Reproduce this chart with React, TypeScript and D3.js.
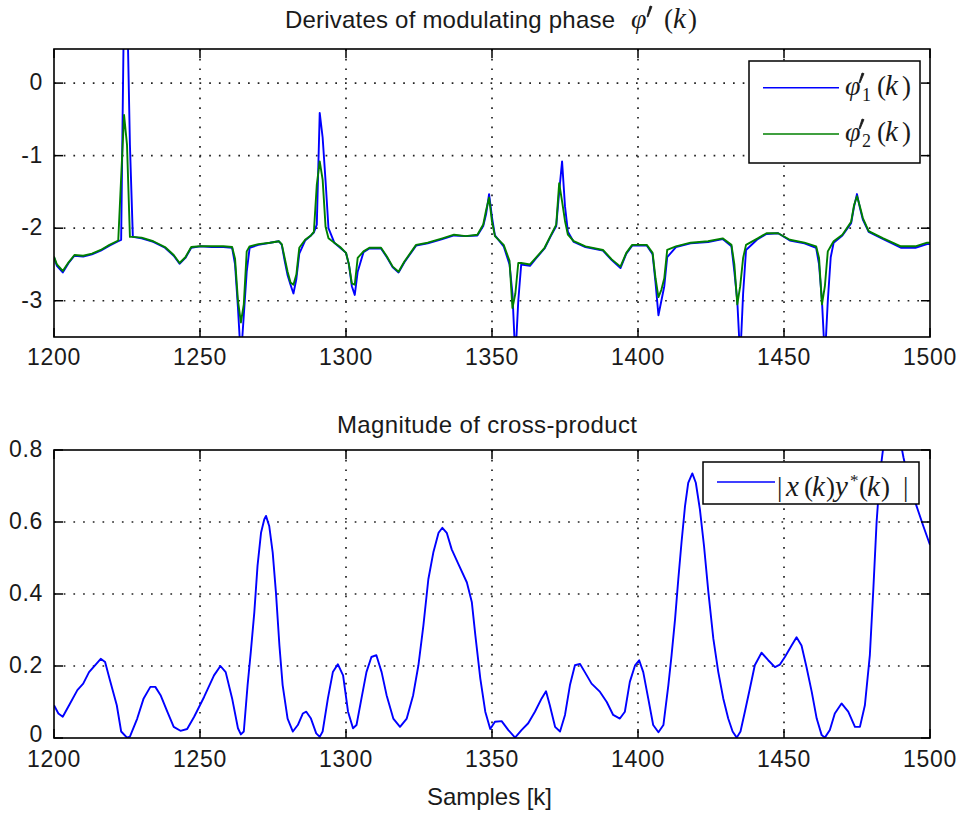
import React from 'react';
import * as d3 from 'd3';

// ---------- data ----------
const X_TICKS = [1200, 1250, 1300, 1350, 1400, 1450, 1500];
const TOP_Y_TICKS = [0, -1, -2, -3];
const TOP_Y_LABELS = ['0', '-1', '-2', '-3'];
const BOT_Y_TICKS = [0, 0.2, 0.4, 0.6, 0.8];
const BOT_Y_LABELS = ['0', '0.2', '0.4', '0.6', '0.8'];

const TOP_K = [
  1200, 1201, 1203, 1205, 1207, 1210, 1213, 1216, 1219, 1222, 1223, 1224, 1225, 1226, 1227, 1230, 1234, 1238, 1241, 1243,
  1245, 1247, 1250, 1254, 1258, 1261, 1262, 1263, 1264, 1265, 1266, 1267, 1270, 1274, 1277, 1278, 1279, 1280, 1281, 1282,
  1283, 1284, 1286, 1288, 1289, 1290, 1291, 1292, 1293, 1294, 1296, 1298, 1300, 1301, 1302, 1303, 1304, 1306, 1308, 1312,
  1314, 1316, 1318, 1320, 1324, 1328, 1333, 1337, 1341, 1345, 1347, 1348, 1349, 1350, 1351, 1354, 1356, 1357, 1358, 1359,
  1360, 1363, 1365, 1368, 1370, 1372, 1373, 1374, 1375, 1376, 1378, 1382, 1388, 1391, 1394, 1396, 1398, 1403, 1405, 1406,
  1407, 1408, 1409, 1410, 1413, 1418, 1424, 1429, 1432, 1433, 1434, 1435, 1436, 1437, 1441, 1444, 1448, 1452, 1457, 1461,
  1462, 1463, 1464, 1465, 1466, 1467, 1470, 1473, 1474, 1475, 1476, 1477, 1479, 1484, 1490, 1495, 1499, 1500,
];

// φ'_2(k) (green)
const PHI2 = [
  -2.39, -2.5, -2.59, -2.47, -2.37, -2.38, -2.35, -2.3, -2.23, -2.17, -1.3, -0.44, -0.85, -2.12, -2.12, -2.13, -2.18, -2.26, -2.37, -2.48,
  -2.4, -2.26, -2.25, -2.25, -2.25, -2.26, -2.42, -3.0, -3.3, -3.05, -2.32, -2.25, -2.22, -2.2, -2.18, -2.22, -2.41, -2.6, -2.75, -2.78,
  -2.64, -2.27, -2.16, -2.1, -2.05, -1.4, -1.08, -1.33, -1.98, -2.14, -2.2, -2.26, -2.34, -2.5, -2.76, -2.78, -2.41, -2.32, -2.27, -2.27,
  -2.39, -2.53, -2.6, -2.46, -2.23, -2.2, -2.14, -2.09, -2.11, -2.09, -1.95, -1.75, -1.58, -1.91, -2.11, -2.23, -2.45, -3.1, -2.9, -2.48,
  -2.48, -2.5, -2.41, -2.27, -2.11, -1.95, -1.38, -1.63, -1.9, -2.09, -2.18, -2.25, -2.3, -2.43, -2.53, -2.34, -2.23, -2.23, -2.34, -2.69,
  -2.95, -2.85, -2.69, -2.3, -2.25, -2.2, -2.18, -2.14, -2.23, -2.5, -3.05, -2.8, -2.41, -2.23, -2.14, -2.07, -2.07, -2.16, -2.2, -2.25,
  -2.41, -3.05, -2.8, -2.32, -2.25, -2.18, -2.09, -1.91, -1.68, -1.56, -1.7, -1.86, -2.04, -2.14, -2.25, -2.25, -2.2, -2.2,
];

// φ'_1(k) (blue)
const PHI1 = [
  -2.4, -2.52, -2.61, -2.48, -2.38, -2.39, -2.36, -2.31, -2.24, -2.18, -2.16, 1.2, 1.2, -0.85, -2.12, -2.14, -2.19, -2.27, -2.38, -2.49,
  -2.41, -2.27, -2.25, -2.26, -2.26, -2.27, -2.5, -3.1, -3.8, -3.2, -2.6, -2.27, -2.23, -2.2, -2.18, -2.23, -2.45, -2.65, -2.78, -2.9,
  -2.7, -2.35, -2.17, -2.1, -2.06, -1.95, -0.41, -0.75, -1.35, -2.0, -2.2, -2.27, -2.34, -2.5, -2.8, -2.92, -2.6, -2.33, -2.28, -2.28,
  -2.4, -2.54, -2.61, -2.47, -2.24, -2.21, -2.15, -2.1, -2.11, -2.1, -1.97, -1.8, -1.53, -1.85, -2.1, -2.25, -2.5, -2.9, -3.8, -3.0,
  -2.5, -2.52, -2.42, -2.28, -2.12, -1.97, -1.5, -1.08, -1.7, -2.05, -2.19, -2.26, -2.31, -2.44, -2.55, -2.35, -2.24, -2.24, -2.36, -2.75,
  -3.2, -3.0, -2.8, -2.4, -2.26, -2.21, -2.19, -2.15, -2.25, -2.6, -3.0, -3.8, -2.9, -2.3, -2.15, -2.08, -2.07, -2.17, -2.21, -2.27,
  -2.5, -3.0, -3.8, -3.0, -2.4, -2.2, -2.1, -1.93, -1.7, -1.53, -1.72, -1.88, -2.05, -2.15, -2.27, -2.27, -2.22, -2.22,
];

const BOT_K = [
  1200, 1201.5, 1203, 1205.5, 1208, 1210, 1212, 1216, 1217.5, 1219, 1221.5, 1223, 1225, 1226, 1228.5, 1230.7, 1233, 1234.7, 1236.5, 1238.8,
  1241, 1243.3, 1245.6, 1248, 1251.4, 1254.8, 1257, 1258.8, 1261, 1263, 1264, 1265, 1266.3, 1267.4, 1268.6, 1269.7, 1270.9, 1272, 1272.6, 1273.7,
  1274.9, 1276, 1277.2, 1278.3, 1280, 1281.8, 1283.5, 1285.2, 1286.4, 1288, 1289.8, 1291, 1292, 1293.8, 1295.5, 1297.2, 1299, 1300.7, 1302.4, 1303.6,
  1305.3, 1307, 1308.7, 1310.4, 1312.2, 1313.9, 1316.2, 1318.5, 1320.8, 1323, 1324.8, 1326.5, 1328.2, 1329.9, 1331.7, 1333, 1334.5, 1336.2, 1338.5, 1341.4,
  1343.1, 1344.3, 1346, 1347.7, 1349.4, 1351, 1353.3, 1355.6, 1357.9, 1360.1, 1362.4, 1364.7, 1367, 1368.5, 1369.8, 1371.6, 1373.3, 1375, 1376.7, 1378.4,
  1380.1, 1381.8, 1384.1, 1387, 1389.3, 1391.5, 1393.8, 1395.5, 1397.2, 1399, 1400.4, 1401.8, 1403.5, 1405.2, 1407, 1408.7, 1410.4, 1411.5, 1412.7, 1413.8,
  1414.9, 1416.1, 1417.2, 1418.6, 1419.8, 1421.2, 1422.6, 1424.1, 1425.8, 1427.5, 1429.2, 1430.9, 1432.4, 1433.8, 1435.1, 1436.6, 1438.3, 1440, 1442.3, 1444.6,
  1446.9, 1448.6, 1450.3, 1452.6, 1454.3, 1456, 1457.7, 1459.5, 1461.2, 1462.9, 1464, 1465.7, 1467.4, 1469.7, 1472, 1474.3, 1476, 1477.7, 1479.4, 1480.6,
  1481.7, 1482.9, 1484.5, 1487, 1489.5, 1490.9, 1493.1, 1495.4, 1497.7, 1499.4, 1500,
];

const CROSS = [
  0.091, 0.068, 0.059, 0.096, 0.133, 0.151, 0.183, 0.22, 0.211, 0.165, 0.091, 0.018, 0.001, 0.004, 0.054, 0.11, 0.142, 0.142, 0.119, 0.073,
  0.031, 0.02, 0.025, 0.059, 0.114, 0.174, 0.2, 0.183, 0.11, 0.027, 0.01, 0.018, 0.147, 0.239, 0.349, 0.478, 0.57, 0.607, 0.617, 0.589,
  0.515, 0.405, 0.257, 0.147, 0.054, 0.018, 0.036, 0.068, 0.073, 0.054, 0.013, 0.003, 0.018, 0.11, 0.183, 0.205, 0.174, 0.073, 0.027, 0.036,
  0.11, 0.183, 0.225, 0.23, 0.183, 0.119, 0.054, 0.031, 0.054, 0.119, 0.202, 0.312, 0.441, 0.515, 0.57, 0.584, 0.57, 0.524, 0.483, 0.432,
  0.377, 0.285, 0.165, 0.073, 0.025, 0.045, 0.047, 0.022, 0.001, 0.022, 0.041, 0.073, 0.11, 0.13, 0.091, 0.031, 0.018, 0.064, 0.147, 0.202,
  0.206, 0.183, 0.151, 0.128, 0.1, 0.064, 0.054, 0.073, 0.156, 0.202, 0.216, 0.183, 0.11, 0.036, 0.016, 0.036, 0.147, 0.23, 0.331, 0.441,
  0.543, 0.644, 0.709, 0.735, 0.709, 0.635, 0.534, 0.405, 0.276, 0.183, 0.11, 0.054, 0.018, 0.001, 0.018, 0.073, 0.137, 0.202, 0.237, 0.216,
  0.197, 0.204, 0.225, 0.257, 0.28, 0.257, 0.197, 0.128, 0.054, 0.008, 0.001, 0.022, 0.068, 0.096, 0.073, 0.031, 0.031, 0.091, 0.23, 0.414,
  0.598, 0.736, 0.84, 0.88, 0.84, 0.78, 0.7, 0.644, 0.589, 0.55, 0.536,
];

// ---------- style ----------
const SANS = '"Liberation Sans", Arial, Helvetica, sans-serif';
const SERIF = '"Liberation Serif", "DejaVu Serif", "Times New Roman", serif';
const BLUE = '#0000ff';
const GREEN = '#008000';
const INK = '#1a1a1a';

type Series = { xs: number[]; ys: number[]; color: string };

function Panel(props: {
  id: string;
  left: number; right: number; top: number; bottom: number;
  yDomain: [number, number];
  yTicks: number[]; yLabels: string[];
  series: Series[];
  xLabelBaseline: number;
}) {
  const { id, left, right, top, bottom, yDomain, yTicks, yLabels, series, xLabelBaseline } = props;
  const x = d3.scaleLinear().domain([1200, 1500]).range([left, right]);
  const y = d3.scaleLinear().domain(yDomain).range([bottom, top]);
  const tickLen = 9;
  const gridProps = { stroke: '#222', strokeWidth: 1.7, strokeDasharray: '1.7,8' };
  return (
    <g>
      <defs>
        <clipPath id={id}>
          <rect x={left} y={top} width={right - left} height={bottom - top} />
        </clipPath>
      </defs>
      <rect x={left} y={top} width={right - left} height={bottom - top} fill="#fff" />
      {X_TICKS.filter((t) => t !== 1200 && t !== 1500).map((t) => (
        <line key={'gx' + t} x1={x(t)} x2={x(t)} y1={top} y2={bottom} {...gridProps} />
      ))}
      {yTicks.filter((t) => y(t) > top + 1 && y(t) < bottom - 1).map((t) => (
        <line key={'gy' + t} x1={left} x2={right} y1={y(t)} y2={y(t)} {...gridProps} />
      ))}
      <g clipPath={`url(#${id})`}>
        {series.map((s, i) => {
          const pts = s.xs.map((k, j) => [k, s.ys[j]] as [number, number]);
          const path = d3.line<[number, number]>().x((d) => x(d[0])).y((d) => y(d[1]))(pts) || '';
          return <path key={i} d={path} fill="none" stroke={s.color} strokeWidth={1.9} strokeLinejoin="round" />;
        })}
      </g>
      {X_TICKS.map((t) => (
        <g key={'tx' + t}>
          <line x1={x(t)} x2={x(t)} y1={bottom} y2={bottom - tickLen} stroke="#000" strokeWidth={1.5} />
          <line x1={x(t)} x2={x(t)} y1={top} y2={top + tickLen} stroke="#000" strokeWidth={1.5} />
          <text x={x(t)} y={xLabelBaseline} textAnchor="middle" fontFamily={SANS} fontSize={23} letterSpacing={0.7} fill={INK}>
            {String(t)}
          </text>
        </g>
      ))}
      {yTicks.map((t, i) => (
        <g key={'ty' + t}>
          <line x1={left} x2={left + tickLen} y1={y(t)} y2={y(t)} stroke="#000" strokeWidth={1.5} />
          <line x1={right} x2={right - tickLen} y1={y(t)} y2={y(t)} stroke="#000" strokeWidth={1.5} />
          <text x={43} y={Math.min(y(t) + 7, bottom + 4)} textAnchor="end" fontFamily={SANS} fontSize={23} letterSpacing={0.7} fill={INK}>
            {yLabels[i]}
          </text>
        </g>
      ))}
      <rect x={left} y={top} width={right - left} height={bottom - top} fill="none" stroke="#000" strokeWidth={1.6} />
    </g>
  );
}

function MathGlyph(props: { x: number; y: number; t: string; italic?: boolean; size?: number }) {
  return (
    <text x={props.x} y={props.y} fontFamily={SERIF} fontStyle={props.italic ? 'italic' : 'normal'} fontSize={props.size ?? 27} fill={INK}>
      {props.t}
    </text>
  );
}

function Prime(props: { x: number; top: number; h: number }) {
  const { x, top, h } = props;
  return <path d={`M${x + 3},${top} L${x + 5},${top + 0.6} L${x + 1},${top + h} L${x},${top + h - 0.5} Z`} fill={INK} stroke={INK} strokeWidth={0.8} />;
}

function PhiLegendLabel(props: { x: number; baseline: number; sub: string }) {
  const { x, baseline: b, sub } = props;
  return (
    <g>
      <MathGlyph x={x} y={b} t="φ" italic size={28} />
      <Prime x={x + 14} top={b - 22} h={10} />
      <MathGlyph x={x + 17} y={b + 6} t={sub} size={18} />
      <MathGlyph x={x + 32} y={b} t="(" />
      <MathGlyph x={x + 40} y={b} t="k" italic size={29} />
      <MathGlyph x={x + 57} y={b} t=")" />
    </g>
  );
}

export default function App() {
  const topLeft = 54, topRight = 930;
  return (
    <svg width={961} height={815} viewBox="0 0 961 815" style={{ position: 'absolute', left: 0, top: 0, background: '#fff' }}>
      <rect x={0} y={0} width={961} height={815} fill="#fff" />

      {/* ---- top panel ---- */}
      <text x={285} y={28} fontFamily={SANS} fontSize={24} textLength={330} lengthAdjust="spacing" fill={INK}>
        Derivates of modulating phase
      </text>
      <MathGlyph x={631} y={28} t="φ" italic size={28} />
      <Prime x={647} top={6} h={11} />
      <MathGlyph x={664} y={28} t="(" />
      <MathGlyph x={673} y={28} t="k" italic size={29} />
      <MathGlyph x={688} y={28} t=")" />

      <Panel
        id="clipTop"
        left={topLeft} right={topRight} top={49} bottom={337}
        yDomain={[-3.5, 0.47]}
        yTicks={TOP_Y_TICKS} yLabels={TOP_Y_LABELS}
        series={[
          { xs: TOP_K, ys: PHI1, color: BLUE },
          { xs: TOP_K, ys: PHI2, color: GREEN },
        ]}
        xLabelBaseline={365}
      />
      <rect x={749} y={61} width={171} height={102} fill="#fff" stroke="#000" strokeWidth={1.5} />
      <line x1={763} x2={839} y1={87.7} y2={87.7} stroke={BLUE} strokeWidth={1.5} />
      <line x1={763} x2={839} y1={134} y2={134} stroke={GREEN} strokeWidth={1.5} />
      <PhiLegendLabel x={845} baseline={95} sub="1" />
      <PhiLegendLabel x={845} baseline={141} sub="2" />

      {/* ---- bottom panel ---- */}
      <text x={337} y={433} fontFamily={SANS} fontSize={24} textLength={300} lengthAdjust="spacing" fill={INK}>
        Magnitude of cross-product
      </text>
      <Panel
        id="clipBot"
        left={topLeft} right={topRight} top={450} bottom={738}
        yDomain={[0, 0.8]}
        yTicks={BOT_Y_TICKS} yLabels={BOT_Y_LABELS}
        series={[{ xs: BOT_K, ys: CROSS, color: BLUE }]}
        xLabelBaseline={767}
      />
      <rect x={703} y={462} width={216} height={42} fill="#fff" stroke="#000" strokeWidth={1.5} />
      <line x1={717} x2={775} y1={482} y2={482} stroke={BLUE} strokeWidth={1.5} />
      <g>
        <MathGlyph x={777} y={496} t="|" />
        <MathGlyph x={786} y={496} t="x" italic size={29} />
        <MathGlyph x={804} y={496} t="(" />
        <MathGlyph x={812} y={496} t="k" italic size={29} />
        <MathGlyph x={826} y={496} t=")" />
        <MathGlyph x={835} y={496} t="y" italic size={29} />
        <MathGlyph x={850} y={486} t="*" size={17} />
        <MathGlyph x={859} y={496} t="(" />
        <MathGlyph x={867} y={496} t="k" italic size={29} />
        <MathGlyph x={881} y={496} t=")" />
        <MathGlyph x={903} y={496} t="|" />
      </g>

      <text x={427} y={805} fontFamily={SANS} fontSize={24} textLength={125} lengthAdjust="spacing" fill={INK}>
        Samples [k]
      </text>
    </svg>
  );
}
